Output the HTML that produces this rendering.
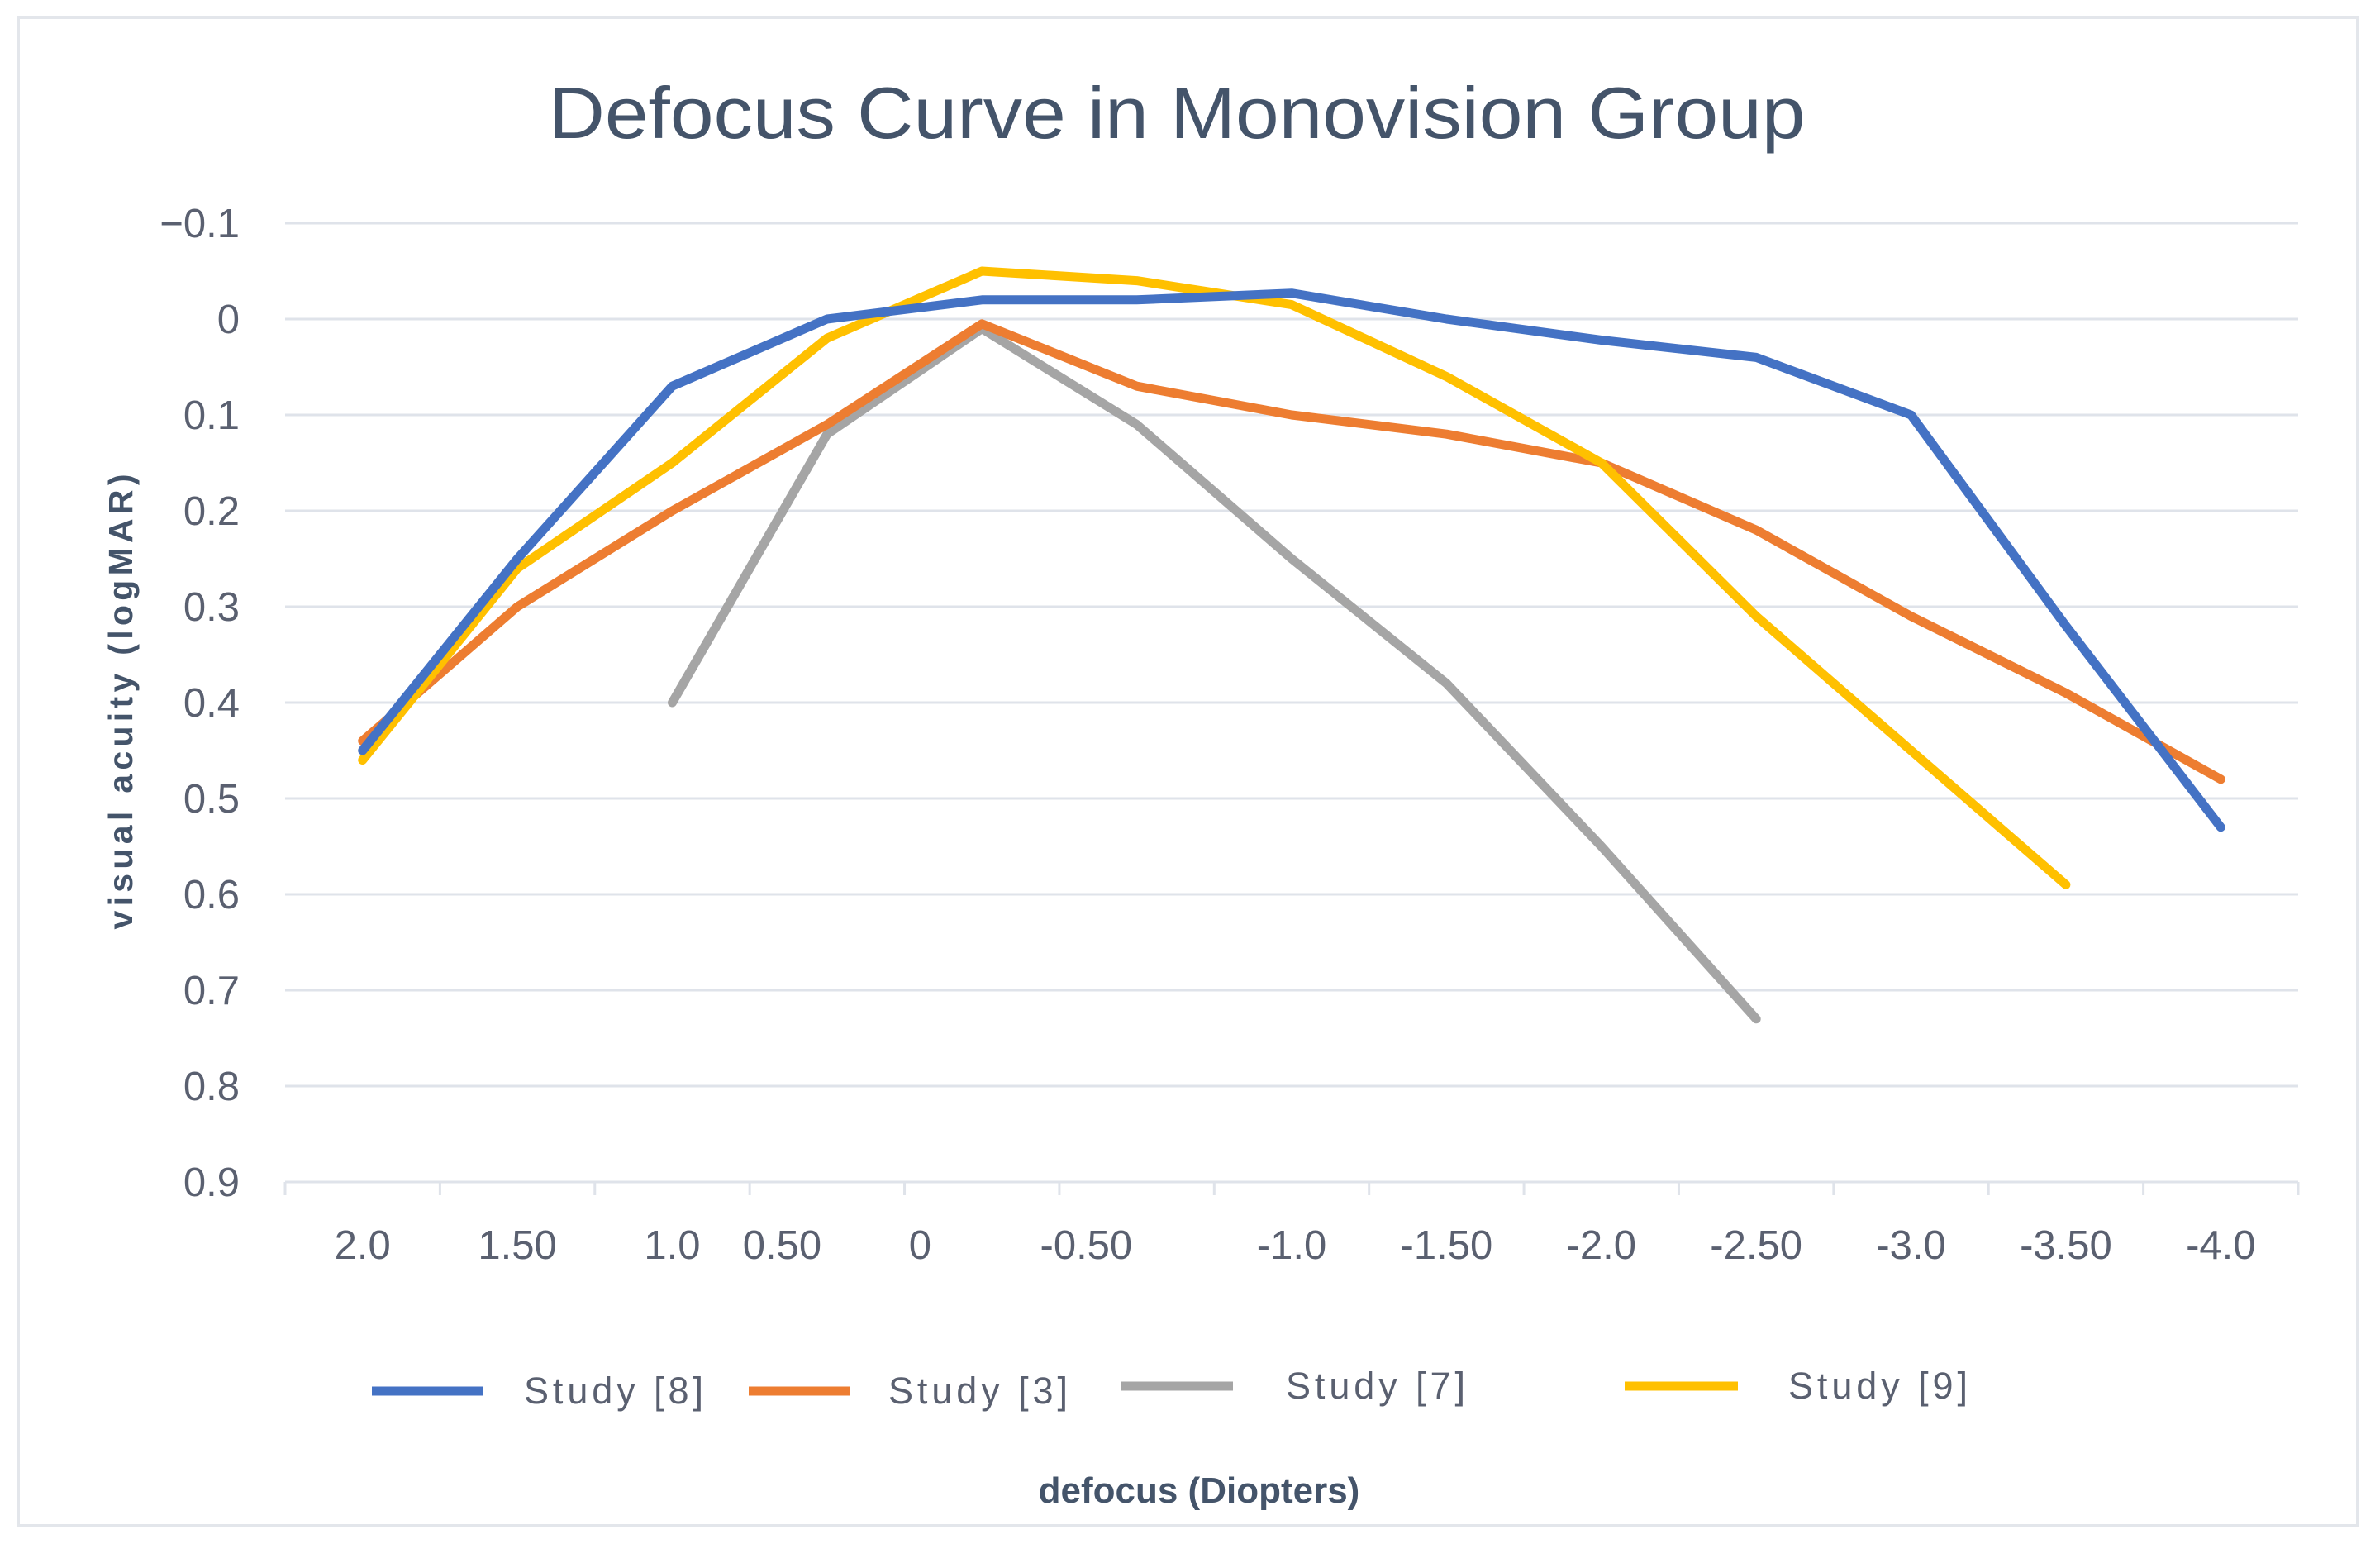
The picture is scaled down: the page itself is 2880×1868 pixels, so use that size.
<!DOCTYPE html>
<html><head><meta charset="utf-8"><style>
html,body{margin:0;padding:0;background:#fff;}
svg{display:block;font-family:"Liberation Sans",sans-serif;}
</style></head><body>
<svg id="chart" width="2880" height="1868" viewBox="0 0 2880 1868">
<rect x="22" y="21" width="2831" height="1825" fill="#fff" stroke="#e3e6eb" stroke-width="4"/>
<text x="1424" y="167" text-anchor="middle" font-size="88" fill="#44546a" textLength="1521" lengthAdjust="spacingAndGlyphs">Defocus Curve in Monovision Group</text>
<g id="grid"></g>
<g id="yticks"></g>
<g id="xticks"></g>
<g id="series"></g>
<text transform="translate(160,849) rotate(-90)" text-anchor="middle" font-size="41" font-weight="bold" fill="#44546a" textLength="551" lengthAdjust="spacing">visual acuity  (logMAR)</text>
<text x="1451" y="1818" text-anchor="middle" font-size="44" font-weight="bold" fill="#44546a">defocus (Diopters)</text>
<g id="legend"></g>
</svg>
<script>
const categories = ["2.0","1.50","1.0","0.50\u00a0\u00a0\u00a0\u00a0\u00a0\u00a0\u00a0\u00a0","0\u00a0\u00a0\u00a0\u00a0\u00a0\u00a0\u00a0\u00a0\u00a0\u00a0\u00a0","-0.50\u00a0\u00a0\u00a0\u00a0\u00a0\u00a0\u00a0\u00a0\u00a0","-1.0","-1.50","-2.0","-2.50","-3.0","-3.50","-4.0"];
const yTicks = [-0.1,0,0.1,0.2,0.3,0.4,0.5,0.6,0.7,0.8,0.9];
const yTickLabels = ["\u22120.1","0","0.1","0.2","0.3","0.4","0.5","0.6","0.7","0.8","0.9"];
const study8 = [0.45,0.25,0.07,0.0,-0.02,-0.02,-0.027,0.0,0.022,0.04,0.10,0.32,0.53];
const study3 = [0.44,0.30,0.20,0.11,0.005,0.07,0.10,0.12,0.15,0.22,0.31,0.39,0.48];
const study7 = [null,null,0.40,0.12,0.01,0.11,0.25,0.38,0.55,0.73,null,null,null];
const study9 = [0.46,0.26,0.15,0.02,-0.05,-0.04,-0.015,0.06,0.15,0.31,0.45,0.59,null];
const seriesNames = ["Study [8]","Study [3]","Study [7]","Study [9]"];

const NS="http://www.w3.org/2000/svg";
const L=345,R=2781,T=270,B=1430;
const bw=(R-L)/categories.length;
function xPos(i){return L+bw*(i+0.5);}
function yPos(v){return T+(v-(-0.1))/(0.9-(-0.1))*(B-T);}
function mk(tag,attrs,parent){const e=document.createElementNS(NS,tag);for(const k in attrs)e.setAttribute(k,attrs[k]);parent.appendChild(e);return e;}
const grid=document.getElementById('grid'),yt=document.getElementById('yticks'),xt=document.getElementById('xticks'),sg=document.getElementById('series'),lg=document.getElementById('legend');
yTicks.forEach((v,i)=>{
  const ln=mk('line',{x1:L,x2:R,y1:yPos(v),y2:yPos(v),stroke:'#dfe3ea','stroke-width':3},grid);
  
  
  const t=mk('text',{x:290,y:yPos(v)+17,'text-anchor':'end','font-size':49,fill:'#5a6070'},yt);
  t.textContent=yTickLabels[i];
  
  
});
for(let i=0;i<=categories.length;i++){
  const tk=mk('line',{x1:L+bw*i,x2:L+bw*i,y1:B,y2:B+16,stroke:'#dfe3ea','stroke-width':3},xt);
  
  
}
categories.forEach((c,i)=>{
  const t=mk('text',{x:xPos(i),y:1523,'text-anchor':'middle','font-size':49,fill:'#5a6070'},xt);
  t.textContent=c;
  
  
});
const allSeries=[study8,study3,study7,study9];
const colors=['#4472c4','#ed7d31','#a5a5a5','#ffc000'];
const order=[2,1,3,0];
order.forEach(s=>{
  let d='';let pen=false;
  allSeries[s].forEach((v,i)=>{if(v===null){pen=false;return;}d+=(pen?'L':'M')+xPos(i).toFixed(1)+' '+yPos(v).toFixed(1)+' ';pen=true;});
  const p=mk('path',{d:d,fill:'none',stroke:colors[s],'stroke-width':11,'stroke-linejoin':'round','stroke-linecap':'round'},sg);
  
  
});
const legLine=[[450,584,1683],[906,1029,1683],[1356,1492,1677],[1966,2103,1677]];
const legText=[634,1075,1556,2164];
seriesNames.forEach((n,s)=>{
  const l=mk('line',{x1:legLine[s][0],x2:legLine[s][1],y1:legLine[s][2],y2:legLine[s][2],stroke:colors[s],'stroke-width':11},lg);
  
  
  const t=mk('text',{x:legText[s],y:legLine[s][2]+15,'font-size':45,fill:'#5a6070',textLength:217,lengthAdjust:'spacing'},lg);
  t.textContent=n;
  
  
});
</script>
</body></html>
